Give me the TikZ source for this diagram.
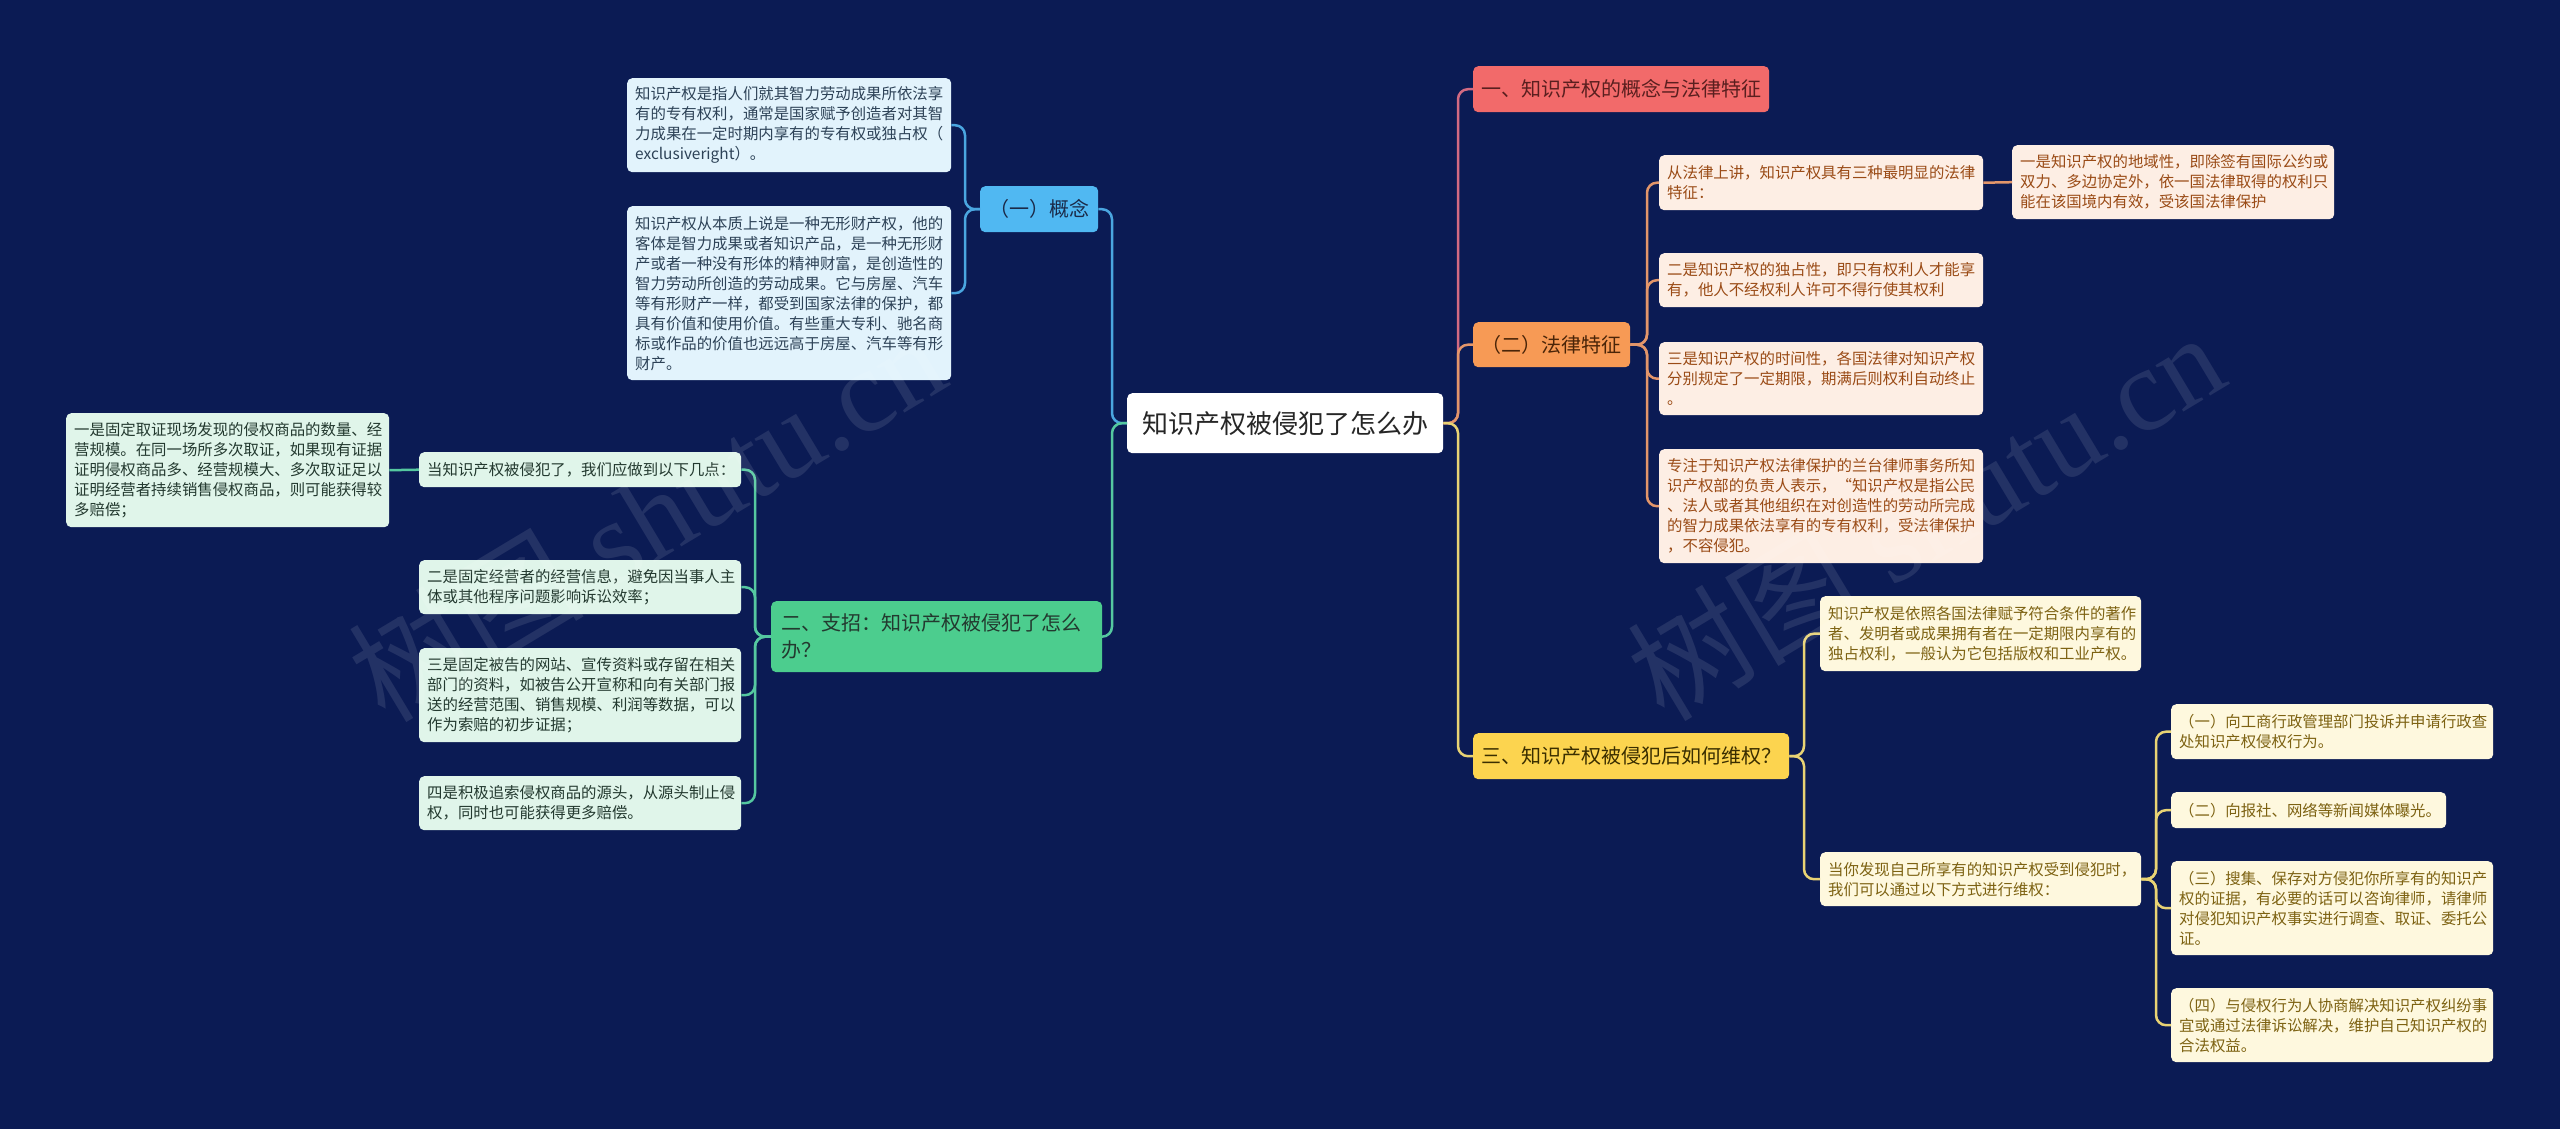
\documentclass[tikz,border=0pt]{standalone}
\usepackage{fontspec}
\setmainfont{Noto Sans CJK SC}
\newfontfamily\wmlatin{Liberation Serif}
\usetikzlibrary{calc}
\definecolor{bgc}{HTML}{0B1B54}
\definecolor{bluef}{HTML}{50B8F2}
\definecolor{bluel}{HTML}{4AA6E0}
\definecolor{bluec}{HTML}{E2F3FC}
\definecolor{bluet}{HTML}{2D4257}
\definecolor{greenf}{HTML}{4CCD8E}
\definecolor{greenl}{HTML}{55C8A0}
\definecolor{greenc}{HTML}{E0F5EA}
\definecolor{greent}{HTML}{23392F}
\definecolor{redf}{HTML}{F26A6A}
\definecolor{redl}{HTML}{D26A82}
\definecolor{redt}{HTML}{5A1F1F}
\definecolor{orf}{HTML}{F79A55}
\definecolor{orl}{HTML}{E3966A}
\definecolor{orc}{HTML}{FDEEE4}
\definecolor{ort}{HTML}{9A4B16}
\definecolor{orft}{HTML}{4A2508}
\definecolor{yef}{HTML}{FCD44F}
\definecolor{yel}{HTML}{E8D374}
\definecolor{yec}{HTML}{FEF8DE}
\definecolor{yet}{HTML}{7D6212}
\definecolor{yeft}{HTML}{3A2E00}
\definecolor{darkt}{HTML}{1B2A48}
\newcommand{\boxnode}[7]{%
  \pgfmathsetmacro\bw{#5-#3}\pgfmathsetmacro\bh{#6-#4}\pgfmathsetmacro\tw{#5-#3-16}%
  \node[#2, minimum width=\bw pt, minimum height=\bh pt, text width=\tw pt] (#1) at (#3,#4) {#7};%
}
\tikzset{
  basebox/.style={rounded corners=5pt, inner xsep=8pt, inner ysep=0pt, anchor=north west, align=left,
    font=\fontsize{15.4}{20}\selectfont},
  topbox/.style={basebox, align=center, font=\fontsize{20}{27}\selectfont},
  centerbox/.style={basebox, align=center, fill=white, text=black!85, font=\fontsize{26}{30}\selectfont},
  bluetop/.style={topbox, fill=bluef, text=darkt},
  bluechild/.style={basebox, fill=bluec, text=bluet},
  greentop/.style={topbox, align=left, fill=greenf, text=greent, inner xsep=10pt},
  greenchild/.style={basebox, fill=greenc, text=greent},
  redtop/.style={topbox, fill=redf, text=redt},
  ortop/.style={topbox, fill=orf, text=orft},
  orchild/.style={basebox, fill=orc, text=ort},
  yetop/.style={topbox, fill=yef, text=yeft},
  yechild/.style={basebox, fill=yec, text=yet},
  conn/.style={line width=2.5pt, rounded corners=10pt},
  watermark/.style={text=white, opacity=0.10, rotate=31, font=\fontsize{118}{120}\selectfont}
}
\begin{document}
\begin{tikzpicture}[x=1pt,y=-1pt]
\useasboundingbox (0,0) rectangle (2560,1129);
\fill[bgc] (0,0) rectangle (2560,1129);

% bracket x coordinates
\coordinate (bxL) at (1112,0);
\coordinate (bxR) at (1458,0);
\coordinate (bxA) at (965,0);
\coordinate (bxB) at (755,0);
\coordinate (bxC) at (1647,0);
\coordinate (bxD) at (1804,0);
\coordinate (bxE) at (2156,0);

% center
\boxnode{root}{centerbox}{1127}{393}{1443}{453}{知识产权被侵犯了怎么办}

% left: concept
\boxnode{gn}{bluetop}{980}{186}{1098}{232}{（一）概念}
\boxnode{gn1}{bluechild}{627}{78}{951}{172}{知识产权是指人们就其智力劳动成果所依法享\\有的专有权利，通常是国家赋予创造者对其智\\力成果在一定时期内享有的专有权或独占权（\\exclusiveright）。}
\boxnode{gn2}{bluechild}{627}{206}{951}{380}{知识产权从本质上说是一种无形财产权，他的\\客体是智力成果或者知识产品，是一种无形财\\产或者一种没有形体的精神财富，是创造性的\\智力劳动所创造的劳动成果。它与房屋、汽车\\等有形财产一样，都受到国家法律的保护，都\\具有价值和使用价值。有些重大专利、驰名商\\标或作品的价值也远远高于房屋、汽车等有形\\财产。}

% left: zhizhao
\boxnode{zz}{greentop}{771}{601}{1098}{672}{二、支招：知识产权被侵犯了怎么\\办？}
\boxnode{zz0}{greenchild}{419}{452}{741}{487}{当知识产权被侵犯了，我们应做到以下几点：}
\boxnode{zz1}{greenchild}{66}{413}{389}{527}{一是固定取证现场发现的侵权商品的数量、经\\营规模。在同一场所多次取证，如果现有证据\\证明侵权商品多、经营规模大、多次取证足以\\证明经营者持续销售侵权商品，则可能获得较\\多赔偿；}
\boxnode{zz2}{greenchild}{419}{560}{741}{614}{二是固定经营者的经营信息，避免因当事人主\\体或其他程序问题影响诉讼效率；}
\boxnode{zz3}{greenchild}{419}{648}{741}{742}{三是固定被告的网站、宣传资料或存留在相关\\部门的资料，如被告公开宣称和向有关部门报\\送的经营范围、销售规模、利润等数据，可以\\作为索赔的初步证据；}
\boxnode{zz4}{greenchild}{419}{776}{741}{830}{四是积极追索侵权商品的源头，从源头制止侵\\权，同时也可能获得更多赔偿。}

% right: one
\boxnode{r1}{redtop}{1473}{66}{1769}{112}{一、知识产权的概念与法律特征}

% right: legal features
\boxnode{fl}{ortop}{1473}{322}{1630}{367}{（二）法律特征}
\boxnode{fl1}{orchild}{1659}{155}{1983}{210}{从法律上讲，知识产权具有三种最明显的法律\\特征：}
\boxnode{fl1a}{orchild}{2012}{145}{2334}{219}{一是知识产权的地域性，即除签有国际公约或\\双力、多边协定外，依一国法律取得的权利只\\能在该国境内有效，受该国法律保护}
\boxnode{fl2}{orchild}{1659}{253}{1983}{307}{二是知识产权的独占性，即只有权利人才能享\\有，他人不经权利人许可不得行使其权利}
\boxnode{fl3}{orchild}{1659}{342}{1983}{415}{三是知识产权的时间性，各国法律对知识产权\\分别规定了一定期限，期满后则权利自动终止\\。}
\boxnode{fl4}{orchild}{1659}{449}{1983}{563}{专注于知识产权法律保护的兰台律师事务所知\\识产权部的负责人表示，“知识产权是指公民\\、法人或者其他组织在对创造性的劳动所完成\\的智力成果依法享有的专有权利，受法律保护\\，不容侵犯。}

% right: three
\boxnode{wq}{yetop}{1473}{733}{1789}{779}{三、知识产权被侵犯后如何维权？}
\boxnode{wq1}{yechild}{1820}{596}{2141}{671}{知识产权是依照各国法律赋予符合条件的著作\\者、发明者或成果拥有者在一定期限内享有的\\独占权利，一般认为它包括版权和工业产权。}
\boxnode{wq2}{yechild}{1820}{852}{2141}{906}{当你发现自己所享有的知识产权受到侵犯时，\\我们可以通过以下方式进行维权：}
\boxnode{wq2a}{yechild}{2171}{704}{2493}{759}{（一）向工商行政管理部门投诉并申请行政查\\处知识产权侵权行为。}
\boxnode{wq2b}{yechild}{2171}{792}{2446}{828}{（二）向报社、网络等新闻媒体曝光。}
\boxnode{wq2c}{yechild}{2171}{861}{2493}{955}{（三）搜集、保存对方侵犯你所享有的知识产\\权的证据，有必要的话可以咨询律师，请律师\\对侵犯知识产权事实进行调查、取证、委托公\\证。}
\boxnode{wq2d}{yechild}{2171}{988}{2493}{1062}{（四）与侵权行为人协商解决知识产权纠纷事\\宜或通过法律诉讼解决，维护自己知识产权的\\合法权益。}

% connectors
\draw[conn, bluel] (root.west) -- (root.west -| bxL) |- (gn.east);
\draw[conn, greenl] (root.west) -- (root.west -| bxL) |- (zz.east);
\draw[conn, redl] (root.east) -- (root.east -| bxR) |- (r1.west);
\draw[conn, orl] (root.east) -- (root.east -| bxR) |- (fl.west);
\draw[conn, yel] (root.east) -- (root.east -| bxR) |- (wq.west);

\draw[conn, bluel] (gn.west) -- (gn.west -| bxA) |- (gn1.east);
\draw[conn, bluel] (gn.west) -- (gn.west -| bxA) |- (gn2.east);

\foreach \c in {zz0,zz2,zz3,zz4}
  \draw[conn, greenl] (zz.west) -- (zz.west -| bxB) |- (\c.east);
\draw[conn, greenl] (zz0.west) -- (zz1.east);

\foreach \c in {fl1,fl2,fl3,fl4}
  \draw[conn, orl] (fl.east) -- (fl.east -| bxC) |- (\c.west);
\draw[conn, orl] (fl1.east) -- (fl1a.west);

\foreach \c in {wq1,wq2}
  \draw[conn, yel] (wq.east) -- (wq.east -| bxD) |- (\c.west);
\foreach \c in {wq2a,wq2b,wq2c,wq2d}
  \draw[conn, yel] (wq2.east) -- (wq2.east -| bxE) |- (\c.west);

% watermarks
\node[watermark] (wm1) at (646,516) {树图{\wmlatin\ shutu.cn}};
\node[watermark] (wm2) at (1925,515) {树图{\wmlatin\ shutu.cn}};
\end{tikzpicture}
\end{document}
